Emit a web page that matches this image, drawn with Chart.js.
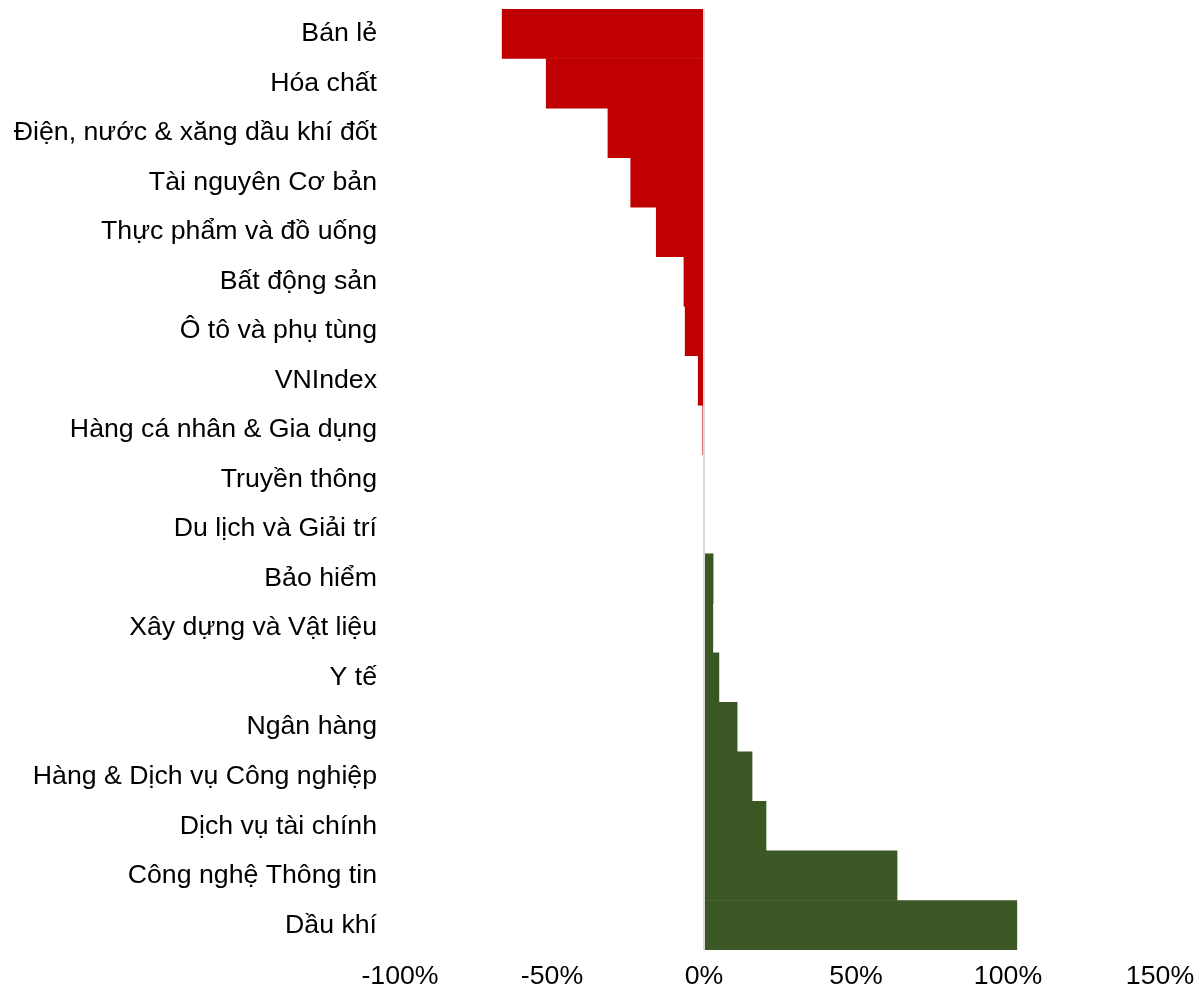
<!DOCTYPE html>
<html>
<head>
<meta charset="utf-8">
<script src="https://cdn.jsdelivr.net/npm/chart.js@4"></script>
<style>
  html, body { margin: 0; padding: 0; background: #fff; }
  #wrap { width: 1198px; height: 997px; position: relative; }
</style>
</head>
<body>
<div id="wrap"><canvas id="sectorChart"></canvas></div>
<script>
// sector performance, % change
const sectors = [
  'Bán lẻ', 'Hóa chất', 'Điện, nước & xăng dầu khí đốt', 'Tài nguyên Cơ bản',
  'Thực phẩm và đồ uống', 'Bất động sản', 'Ô tô và phụ tùng', 'VNIndex',
  'Hàng cá nhân & Gia dụng', 'Truyền thông', 'Du lịch và Giải trí', 'Bảo hiểm',
  'Xây dựng và Vật liệu', 'Y tế', 'Ngân hàng', 'Hàng & Dịch vụ Công nghiệp',
  'Dịch vụ tài chính', 'Công nghệ Thông tin', 'Dầu khí'
];
const changePct = [
  -66.4, -51.9, -31.6, -24.1,
  -15.7, -6.6, -6.2, -1.9,
  -0.4, 0, 0, 3.0,
  2.9, 4.9, 10.9, 15.8,
  20.4, 63.5, 102.9
];
const xTicks = [-100, -50, 0, 50, 100, 150];

const NEG = '#c00000';
const POS = '#3b5724';
const FONT = '"Liberation Sans", Arial, sans-serif';
const SIZE = 26.7;

const ctx = document.getElementById('sectorChart').getContext('2d');
new Chart(ctx, {
  type: 'bar',
  data: {
    labels: sectors,
    datasets: [{
      data: changePct,
      backgroundColor: c => (c.raw < 0 ? NEG : POS),
      borderWidth: 0,
      barPercentage: 1,
      categoryPercentage: 1
    }]
  },
  options: {
    indexAxis: 'y',
    responsive: true,
    maintainAspectRatio: false,
    animation: false,
    layout: { padding: { top: 9, right: 38, left: 0, bottom: 0 } },
    plugins: { legend: { display: false }, tooltip: { enabled: false } },
    scales: {
      x: {
        min: -100,
        max: 150,
        afterBuildTicks: s => { s.ticks = xTicks.map(v => ({ value: v })); },
        afterFit: s => { s.height = 47; },
        border: { display: false },
        grid: {
          z: 1,
          // only the zero line is visible
          color: c => (c.tick && c.tick.value === 0 ? '#d9d9d9' : 'rgba(0,0,0,0)'),
          lineWidth: 2,
          drawTicks: true,
          tickLength: 11,
          tickColor: 'rgba(0,0,0,0)'
        },
        ticks: {
          padding: 0,
          color: '#000',
          font: { family: FONT, size: SIZE },
          callback: v => v + '%'
        }
      },
      y: {
        afterFit: s => { s.width = 400; },
        border: { display: false },
        grid: {
          display: true,
          drawOnChartArea: false,
          drawTicks: true,
          tickLength: 23,
          tickColor: 'rgba(0,0,0,0)'
        },
        ticks: {
          padding: 0,
          color: '#000',
          font: { family: FONT, size: SIZE, lineHeight: 0.6 },
          autoSkip: false
        }
      }
    }
  }
});
</script>
</body>
</html>
